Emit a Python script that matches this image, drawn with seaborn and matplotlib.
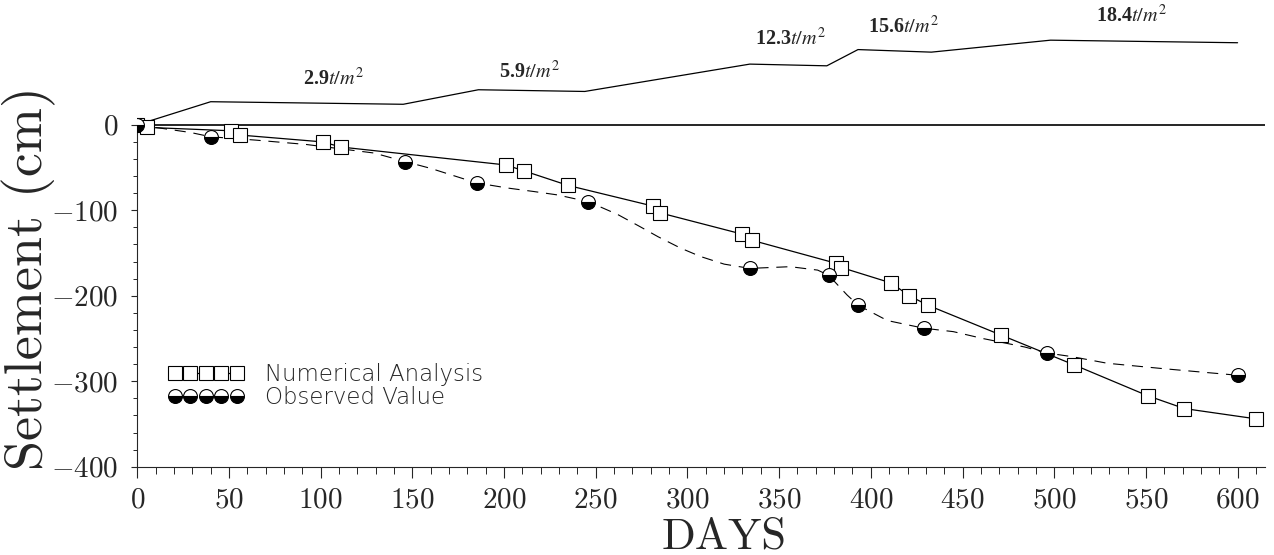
import matplotlib
matplotlib.use("Agg")
import numpy as np
import matplotlib.pyplot as plt
from matplotlib.ticker import FixedLocator, MultipleLocator, FuncFormatter
import seaborn as sns

# numerical analysis (squares, solid line) - points drawn in pairs as in the original
num_days = [0, 5, 51, 56, 101, 111, 201, 211, 235, 281, 285, 330, 335,
            381, 384, 411, 421, 431, 471, 511, 551, 571, 610]
num_settle = [0, -3, -7, -12, -20, -26, -47, -54, -71, -95, -103, -128, -135,
              -162, -167, -185, -200, -211, -246, -281, -317, -332, -344]

# observed settlement (half filled circles)
obs_days = [0, 40, 146, 185, 246, 334, 377, 393, 429, 496, 600]
obs_settle = [0, -14, -43, -68, -90, -168, -176, -211, -238, -267, -293]

obs_curve_days = [0, 29, 40, 65, 92, 129, 146, 160, 185, 202, 216, 229, 246,
                  262, 274, 284, 296, 307, 320, 334, 356, 371, 377, 387, 393,
                  409, 420, 429, 445, 461, 484, 496, 509, 529, 558, 584, 600]
obs_curve_settle = [0, -9, -14, -18, -23, -33, -43, -51, -68, -74, -78, -82, -90,
                    -105, -119, -131, -144, -154, -163, -168, -166, -170, -176, -199, -211,
                    -229, -234, -238, -242, -250, -260, -267, -271, -279, -285, -290, -293]

# fill (load) history drawn above the zero line
load_days = [0, 40, 145, 186, 244, 334, 376, 393, 433, 498, 600]
load_height = [0, 27, 24, 41, 39, 71, 69, 88, 85, 99, 96]
load_labels = ["2.9", "5.9", "12.3", "15.6", "18.4"]
load_label_pos = [(107, 53), (214, 62), (356, 100), (418, 114), (542, 127)]

x_ticks = [0, 50, 100, 150, 200, 250, 300, 350, 400, 450, 500, 550, 600]
y_ticks = [-400, -300, -200, -100, 0]

sns.set_style("ticks")
plt.rcParams["mathtext.fontset"] = "cm"
plt.rcParams["font.family"] = ["cmr10", "DejaVu Serif"]
plt.rcParams["axes.unicode_minus"] = False

fig = plt.figure(figsize=(12.74, 5.55), dpi=100)
ax = fig.add_axes([0.1078, 0.1591, 0.8852, 0.8409])

sns.lineplot(x=load_days, y=load_height, ax=ax, color="black", lw=0.9,
             estimator=None, sort=False)
ax.axhline(0, color="black", lw=1.2)

sns.lineplot(x=obs_curve_days, y=obs_curve_settle, ax=ax, color="black", lw=0.8,
             linestyle=(0, (10, 7)), estimator=None, sort=False)

sns.lineplot(x=num_days, y=num_settle, ax=ax, color="black", lw=0.9,
             marker="s", markersize=10, markerfacecolor="white",
             markeredgecolor="black", markeredgewidth=0.8,
             estimator=None, sort=False)
num_handle = ax.lines[-1]

sns.lineplot(x=obs_days, y=obs_settle, ax=ax, color="black", linestyle="none",
             marker="o", markersize=10, fillstyle="bottom",
             markerfacecolor="black", markerfacecoloralt="white",
             markeredgecolor="black", markeredgewidth=0.8,
             estimator=None, sort=False, zorder=5)
obs_handle = ax.lines[-1]

for lab, (lx, ly) in zip(load_labels, load_label_pos):
    ax.text(lx, ly, lab + r"$t/m^2$", ha="center", va="center", fontsize=14.5,
            family="Liberation Serif", weight="bold", math_fontfamily="stix")

ax.set_xlim(0, 615)
ax.set_ylim(-400, 146)

ax.xaxis.set_major_locator(FixedLocator(x_ticks))
ax.xaxis.set_minor_locator(MultipleLocator(10))
ax.yaxis.set_major_locator(FixedLocator(y_ticks))
ax.yaxis.set_minor_locator(FixedLocator(np.arange(-400, 1, 20)))
fmt = FuncFormatter(lambda v, p: f"${v:.0f}$")
ax.xaxis.set_major_formatter(fmt)
ax.yaxis.set_major_formatter(fmt)

ax.tick_params(axis="x", which="major", direction="out", length=8, width=0.8,
               labelsize=21, pad=7)
ax.tick_params(axis="x", which="minor", direction="out", length=5, width=0.7)
ax.tick_params(axis="y", which="major", direction="out", length=4.5, width=0.8,
               labelsize=21, pad=9)
ax.tick_params(axis="y", which="minor", direction="out", length=3, width=0.7)

for s in ["top", "right"]:
    ax.spines[s].set_visible(False)
ax.spines["left"].set_bounds(-400, 0)
ax.spines["left"].set_linewidth(0.8)
ax.spines["bottom"].set_linewidth(0.8)

ax.set_xlabel("DAYS", fontsize=32, family="cmr10")
ax.xaxis.set_label_coords(0.52, -0.108)
ax.set_ylabel("Settlement (cm)", fontsize=39, family="cmr10")
ax.yaxis.set_label_coords(-0.072, 0.405)

ax.legend(handles=[num_handle, obs_handle],
          labels=["Numerical Analysis", "Observed Value"],
          loc="center left", bbox_to_anchor=(0.027, 0.173), numpoints=5,
          handlelength=3.3, handletextpad=0.95, labelspacing=0.0,
          frameon=False, borderpad=0, borderaxespad=0,
          prop=dict(family="DejaVu Sans", weight="light", size=16.5))

fig.savefig("out.png", dpi=100, facecolor="white")
